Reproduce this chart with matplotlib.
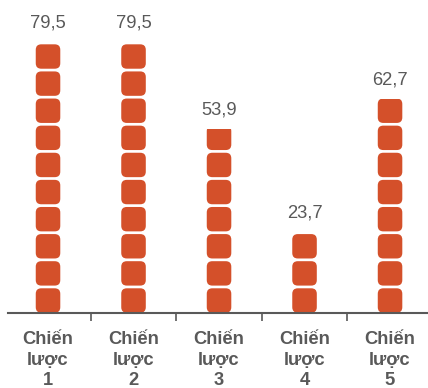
import math
import matplotlib
matplotlib.use("Agg")
import matplotlib.pyplot as plt
from matplotlib.patches import FancyBboxPatch, Rectangle

# Data
categories = ["Chiến\nlược\n1", "Chiến\nlược\n2", "Chiến\nlược\n3", "Chiến\nlược\n4", "Chiến\nlược\n5"]
values = [79.5, 79.5, 53.9, 23.7, 62.7]
value_labels = ["79,5", "79,5", "53,9", "23,7", "62,7"]

ICON_COLOR = "#D4502A"
TEXT_COLOR = "#595959"
AXIS_COLOR = "#595959"

W, H, DPI = 428, 388, 100
fig = plt.figure(figsize=(W / DPI, H / DPI), dpi=DPI)

xlim = (-0.468, 4.444)
ylim = (0, 90)
ax_left_px, ax_bottom_px = 8, 75.3
ax_w_px = W - ax_left_px
ax_h_px = 306.9
ax = fig.add_axes([ax_left_px / W, ax_bottom_px / H, ax_w_px / W, ax_h_px / H])
ax.set_xlim(*xlim)
ax.set_ylim(*ylim)

# pixels per data unit, used to keep icon corners circular
px_per_x = ax_w_px / (xlim[1] - xlim[0])
px_per_y = ax_h_px / (ylim[1] - ylim[0])
aspect = px_per_x / px_per_y

# each icon stands for a tenth of the largest value
unit = max(values) / 10
icon_w = 0.287
icon_h = unit * 0.9
radius = 5.5 / px_per_x

for i, v in enumerate(values):
    n = math.ceil(v / unit - 1e-9)
    clip = Rectangle((i - 0.5, 0), 1.0, v, transform=ax.transData)
    for k in range(n):
        box = FancyBboxPatch((i - icon_w / 2, k * unit), icon_w, icon_h,
                             boxstyle=f"round,pad=0,rounding_size={radius}",
                             mutation_aspect=aspect,
                             facecolor=ICON_COLOR, edgecolor="none")
        ax.add_patch(box)
        box.set_clip_path(clip)
    ax.annotate(value_labels[i], (i, v), xytext=(0, 10.5), textcoords="offset points",
                ha="center", va="baseline", fontsize=13.2, color=TEXT_COLOR,
                family="Liberation Sans", annotation_clip=False)

for s in ("top", "right", "left"):
    ax.spines[s].set_visible(False)
ax.spines["bottom"].set_color(AXIS_COLOR)
ax.spines["bottom"].set_linewidth(1.5)
ax.set_yticks([])

# separators between categories
ax.set_xticks([i + 0.5 for i in range(len(values) - 1)])
ax.set_xticklabels([])
ax.tick_params(axis="x", which="major", length=6, width=1.2, color=AXIS_COLOR, direction="out")

# category names
ax.set_xticks(range(len(categories)), minor=True)
ax.set_xticklabels(categories, minor=True, fontsize=13.2, fontweight="bold",
                   color=TEXT_COLOR, family="Liberation Sans", linespacing=1.24)
ax.tick_params(axis="x", which="minor", length=0, pad=13.5)

fig.savefig("out.png", dpi=DPI)
